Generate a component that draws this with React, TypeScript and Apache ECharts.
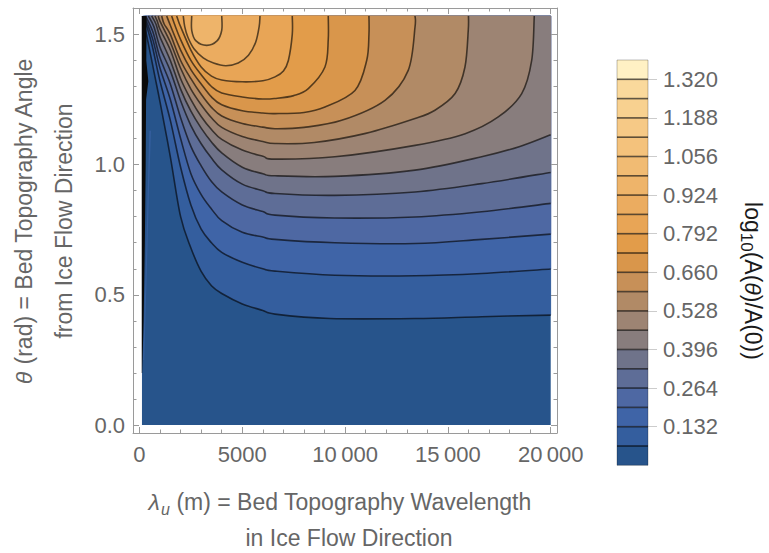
import { useEffect, useRef } from "react";
import * as echarts from "echarts";

// ---------- data ----------
const HALF_PI = 1.5708;
const domainX = [120, 20000];
const domainTheta = [0, HALF_PI];

// contour levels (log10 A(θ)/A(0)) drawn in the plot
const levels = [0.066, 0.132, 0.198, 0.264, 0.33, 0.396, 0.462, 0.528, 0.594, 0.66, 0.726, 0.792, 0.858, 0.924];

// contour lines, [λu (m), θ (rad)]
const contour1 = [[150, 1.5708], [430, 1.465], [754, 1.337], [1000, 1.24], [1500, 1.03], [2000, 0.8], [2500, 0.68], [3000, 0.59], [3500, 0.535], [4000, 0.505], [5000, 0.465], [6000, 0.44], [6590, 0.426], [9265, 0.409], [13400, 0.409], [16640, 0.416], [20000, 0.422]];
const contour2 = [[200, 1.5708], [592, 1.465], [1000, 1.32], [1500, 1.17], [2000, 0.99], [2500, 0.845], [3000, 0.752], [3500, 0.7], [4000, 0.663], [5000, 0.625], [6000, 0.6], [6590, 0.591], [9500, 0.575], [13400, 0.573], [16640, 0.582], [20000, 0.599]];
const contour3 = [[250, 1.5708], [650, 1.48], [1000, 1.37], [1500, 1.25], [2000, 1.1], [2500, 0.965], [3000, 0.885], [3500, 0.83], [4000, 0.785], [5000, 0.74], [6000, 0.722], [6590, 0.713], [9500, 0.7], [13400, 0.697], [16640, 0.713], [20000, 0.733]];
const contour4 = [[300, 1.5708], [650, 1.51], [1000, 1.41], [1500, 1.31], [2000, 1.18], [2500, 1.07], [3000, 0.995], [3500, 0.935], [4000, 0.895], [5000, 0.845], [6000, 0.82], [6590, 0.806], [9500, 0.795], [13400, 0.799], [16640, 0.819], [20000, 0.851]];
const contour5 = [[430, 1.5708], [700, 1.53], [1000, 1.45], [1500, 1.36], [2000, 1.245], [2500, 1.15], [3000, 1.08], [3500, 1.025], [4000, 0.98], [5000, 0.925], [6000, 0.9], [6590, 0.889], [9500, 0.882], [13400, 0.895], [16640, 0.927], [20000, 0.97]];
const contour6 = [[593, 1.5708], [800, 1.54], [1000, 1.49], [1500, 1.4], [2000, 1.29], [2500, 1.205], [3000, 1.14], [3500, 1.087], [4000, 1.045], [5000, 0.99], [6000, 0.965], [6590, 0.957], [9500, 0.955], [13400, 0.979], [16640, 1.03], [18500, 1.07], [20000, 1.115]];
const contour7 = [[754, 1.5708], [870, 1.55], [1000, 1.52], [1500, 1.44], [2000, 1.33], [2500, 1.25], [3000, 1.185], [3500, 1.135], [4000, 1.097], [5000, 1.056], [6000, 1.032], [6590, 1.021], [9500, 1.03], [13400, 1.074], [15840, 1.119], [17450, 1.183], [18590, 1.273], [19075, 1.4], [19200, 1.5708]];
const contour8 = [[916, 1.5708], [1000, 1.55], [1500, 1.47], [2000, 1.37], [2500, 1.29], [3000, 1.23], [3500, 1.18], [4000, 1.143], [5000, 1.108], [6000, 1.089], [6590, 1.081], [8500, 1.085], [11000, 1.12], [13400, 1.177], [14370, 1.209], [15350, 1.273], [15830, 1.375], [15990, 1.516], [16000, 1.5708]];
const contour9 = [[1080, 1.5708], [1200, 1.54], [1500, 1.5], [2000, 1.4], [2500, 1.33], [3000, 1.27], [3500, 1.22], [4000, 1.187], [5000, 1.158], [6000, 1.144], [6590, 1.138], [8000, 1.143], [9830, 1.17], [11940, 1.247], [13070, 1.362], [13400, 1.528], [13400, 1.5708]];
const contour10 = [[1323, 1.5708], [1500, 1.535], [2000, 1.44], [2500, 1.365], [3000, 1.31], [3500, 1.26], [4000, 1.23], [5000, 1.207], [6000, 1.198], [6590, 1.196], [8000, 1.2], [9020, 1.221], [10480, 1.285], [11050, 1.4], [11160, 1.5], [11160, 1.5708]];
const contour11 = [[1565, 1.5708], [1700, 1.54], [2000, 1.48], [2500, 1.4], [3000, 1.345], [3500, 1.3], [4000, 1.275], [5000, 1.26], [6000, 1.252], [6590, 1.254], [7500, 1.265], [8210, 1.292], [9020, 1.375], [9180, 1.48], [9180, 1.5708]];
const contour12 = [[1808, 1.5708], [1900, 1.55], [2000, 1.53], [2500, 1.44], [3000, 1.375], [3500, 1.34], [4000, 1.325], [5000, 1.318], [6000, 1.322], [6590, 1.337], [7000, 1.36], [7240, 1.4], [7430, 1.5], [7430, 1.5708]];
const contour13 = [[2130, 1.5708], [2200, 1.53], [2350, 1.49], [2650, 1.445], [3100, 1.41], [3600, 1.39], [4200, 1.38], [4800, 1.39], [5300, 1.42], [5650, 1.47], [5820, 1.53], [5860, 1.5708]];
const contour14 = [[2540, 1.5708], [2540, 1.516], [2750, 1.475], [3270, 1.458], [3770, 1.475], [4000, 1.516], [4000, 1.5708]];
const contours = [contour1, contour2, contour3, contour4, contour5, contour6, contour7, contour8, contour9, contour10, contour11, contour12, contour13, contour14];

// densely packed contours along the left edge (drawn as one dark strip)
const denseEdge = [[110, 1.5708], [340, 1.5708], [330, 1.4], [430, 1.32], [320, 1.25], [300, 1.0], [260, 0.7], [200, 0.4], [130, 0.2], [110, 0.2]];
// narrow lighter band just right of the strip
const edgeBand = [[180, 0.25], [300, 0.6], [400, 0.9], [480, 1.13], [560, 1.13], [460, 0.9], [360, 0.6], [230, 0.25]];

// colour of each band, from 0 up to 1.386 in steps of 0.066
const bandColors = [
  "#27548b", "#345e9e", "#3f64a7", "#4e68a3", "#5e6d97", "#6f738a", "#887d7d",
  "#9d8473", "#b18a66", "#c79058", "#d9964b", "#e29c4a", "#e8a556", "#ebac60",
  "#eeb46a", "#f1bb73", "#f4c27c", "#f6c986", "#f8d190", "#fad99c", "#fff1c4",
];
const colorbarEdges = [0, 0.066, 0.132, 0.198, 0.264, 0.33, 0.396, 0.462, 0.528, 0.594, 0.66, 0.726, 0.792, 0.858, 0.924, 0.99, 1.056, 1.122, 1.188, 1.254, 1.32, 1.386];
const colorbarTicks = [0.132, 0.264, 0.396, 0.528, 0.66, 0.792, 0.924, 1.056, 1.188, 1.32];

const xMajorTicks = [0, 5000, 10000, 15000, 20000];
const xMinorTicks = [1000, 2000, 3000, 4000, 6000, 7000, 8000, 9000, 11000, 12000, 13000, 14000, 16000, 17000, 18000, 19000];
const yMajorTicks = [0, 0.5, 1.0, 1.5];
const yMinorTicks = [0.1, 0.2, 0.3, 0.4, 0.6, 0.7, 0.8, 0.9, 1.1, 1.2, 1.3, 1.4];

// ---------- styling ----------
const FONT = '"Liberation Sans", Arial, sans-serif';
const FRAME = "#9a9a9a";
const LABEL = "#666666";
const LINE = "rgba(0,0,0,0.62)";
const X_MIN = -316;
const X_MAX = 20306;
const Y_MIN = -0.0307;
const Y_MAX = 1.6015;

function splinePath(pts: number[][]): string {
  let d = `M${pts[0][0]},${pts[0][1]}`;
  for (let i = 0; i < pts.length - 1; i++) {
    const p0 = pts[i - 1] || pts[i];
    const p1 = pts[i];
    const p2 = pts[i + 1];
    const p3 = pts[i + 2] || p2;
    const t = 1 / 6;
    const c1x = p1[0] + (p2[0] - p0[0]) * t;
    const c1y = p1[1] + (p2[1] - p0[1]) * t;
    const c2x = p2[0] - (p3[0] - p1[0]) * t;
    const c2y = p2[1] - (p3[1] - p1[1]) * t;
    d += `C${c1x},${c1y},${c2x},${c2y},${p2[0]},${p2[1]}`;
  }
  return d;
}

function polyPath(pts: number[][]): string {
  return pts.map((p, i) => `${i ? "L" : "M"}${p[0]},${p[1]}`).join("") + "Z";
}

const fmtX = (v: number) =>
  v >= 10000 ? `${Math.floor(v / 1000)}\u2009${String(v % 1000).padStart(3, "0")}` : String(v);

function xAxisDef(position: string, ticks: number[], major: boolean, labels: boolean) {
  return {
    type: "value", gridIndex: 0, min: X_MIN, max: X_MAX, position, z: 6,
    splitLine: { show: false },
    axisLine: { show: major, onZero: false, lineStyle: { color: FRAME, width: 1 } },
    axisTick: { show: true, inside: true, length: major ? 6 : 3.5, customValues: ticks, lineStyle: { color: FRAME, width: 1 } },
    axisLabel: labels
      ? { show: true, customValues: ticks, formatter: fmtX, color: LABEL, fontSize: 22, fontFamily: FONT, margin: 10 }
      : { show: false },
  };
}
function yAxisDef(position: string, ticks: number[], major: boolean, labels: boolean) {
  return {
    type: "value", gridIndex: 0, min: Y_MIN, max: Y_MAX, position, z: 6,
    splitLine: { show: false },
    axisLine: { show: major, onZero: false, lineStyle: { color: FRAME, width: 1 } },
    axisTick: { show: true, inside: true, length: major ? 6 : 3.5, customValues: ticks, lineStyle: { color: FRAME, width: 1 } },
    axisLabel: labels
      ? { show: true, customValues: ticks, formatter: (v: number) => v.toFixed(1), color: LABEL, fontSize: 22, fontFamily: FONT, margin: 8 }
      : { show: false },
  };
}

function buildOption() {
  const textBase = { fontSize: 23, fontFamily: FONT };
  return {
    animation: false,
    backgroundColor: "#ffffff",
    grid: [
      { left: 133, top: 8, width: 424, height: 425, outerBoundsMode: "none" },
      { left: 617, top: 60, width: 31, height: 405.3, outerBoundsMode: "none" },
    ],
    xAxis: [
      xAxisDef("bottom", xMajorTicks, true, true),
      xAxisDef("bottom", xMinorTicks, false, false),
      xAxisDef("top", xMajorTicks, true, false),
      xAxisDef("top", xMinorTicks, false, false),
      { type: "value", gridIndex: 1, min: 0, max: 1, show: false },
    ],
    yAxis: [
      yAxisDef("left", yMajorTicks, true, true),
      yAxisDef("left", yMinorTicks, false, false),
      yAxisDef("right", yMajorTicks, true, false),
      yAxisDef("right", yMinorTicks, false, false),
      {
        type: "value", gridIndex: 1, min: 0, max: 1.386, position: "right",
        splitLine: { show: false },
        axisLine: { show: false, onZero: false },
        axisTick: { show: true, inside: false, length: 9, customValues: colorbarTicks, lineStyle: { color: "#cccccc", width: 1 } },
        axisLabel: { show: true, customValues: colorbarTicks, formatter: (v: number) => v.toFixed(3), color: LABEL, fontSize: 22, fontFamily: FONT, margin: 15 },
      },
    ],
    series: [
      {
        type: "custom", name: "bands", xAxisIndex: 0, yAxisIndex: 0, z: 2, silent: true,
        data: bandColors.slice(0, contours.length + 1).map((_, i) => [i, 0]),
        renderItem: (params: any, api: any) => {
          const i = params.dataIndex;
          if (i === 0) {
            const corners = [
              [domainX[0], domainTheta[0]], [domainX[1], domainTheta[0]],
              [domainX[1], domainTheta[1]], [domainX[0], domainTheta[1]],
            ].map((p) => api.coord(p));
            return { type: "path", shape: { pathData: polyPath(corners) }, style: { fill: bandColors[0] } };
          }
          const c = contours[i - 1];
          const pts = c.map((p) => api.coord(p));
          let d = splinePath(pts);
          const last = c[c.length - 1];
          if (last[1] < HALF_PI - 1e-6) {
            const tr = api.coord([domainX[1], domainTheta[1]]);
            d += `L${tr[0]},${tr[1]}`;
          }
          d += "Z";
          return { type: "path", shape: { pathData: d }, style: { fill: bandColors[i], stroke: bandColors[i], lineWidth: 0.5 } };
        },
      },
      {
        type: "custom", name: "edgeBand", xAxisIndex: 0, yAxisIndex: 0, z: 3, silent: true,
        data: [[0, 0]],
        renderItem: (_p: any, api: any) => ({
          type: "path", shape: { pathData: polyPath(edgeBand.map((p) => api.coord(p))) }, style: { fill: bandColors[1] },
        }),
      },
      {
        type: "custom", name: "contours", xAxisIndex: 0, yAxisIndex: 0, z: 4, silent: true,
        data: contours.map((_, i) => [i, 0]),
        renderItem: (params: any, api: any) => {
          const c = contours[params.dataIndex];
          return {
            type: "path",
            shape: { pathData: splinePath(c.map((p) => api.coord(p))) },
            style: { fill: "none", stroke: LINE, lineWidth: 1.6 },
          };
        },
      },
      {
        type: "custom", name: "denseEdge", xAxisIndex: 0, yAxisIndex: 0, z: 5, silent: true,
        data: [[0, 0]],
        renderItem: (_p: any, api: any) => ({
          type: "path", shape: { pathData: polyPath(denseEdge.map((p) => api.coord(p))) }, style: { fill: "#0a0a0a" },
        }),
      },
      {
        type: "custom", name: "colorbar", xAxisIndex: 4, yAxisIndex: 4, z: 2, silent: true,
        data: bandColors.map((_, i) => [0, colorbarEdges[i]]),
        renderItem: (params: any, api: any) => {
          const i = params.dataIndex;
          const lo = api.coord([0, colorbarEdges[i]]);
          const hi = api.coord([1, colorbarEdges[i + 1]]);
          const children: any[] = [
            { type: "rect", shape: { x: lo[0], y: hi[1], width: hi[0] - lo[0], height: lo[1] - hi[1] }, style: { fill: bandColors[i] } },
          ];
          if (i > 0) {
            children.push({ type: "line", shape: { x1: lo[0], y1: lo[1], x2: hi[0], y2: lo[1] }, style: { stroke: LINE, lineWidth: 1.6 } });
          }
          if (i === bandColors.length - 1) {
            const b = api.coord([0, colorbarEdges[0]]);
            children.push({ type: "rect", shape: { x: b[0], y: hi[1], width: hi[0] - b[0], height: b[1] - hi[1] }, style: { fill: "none", stroke: "rgba(0,0,0,0.25)", lineWidth: 1 } });
          }
          return { type: "group", children };
        },
      },
    ],
    graphic: [
      {
        type: "text", x: 24, y: 221, rotation: Math.PI / 2,
        style: {
          text: "{i|θ} (rad) = Bed Topography Angle", ...textBase, fill: LABEL,
          align: "center", verticalAlign: "middle",
          rich: { i: { ...textBase, fontStyle: "italic", fill: LABEL } },
        },
      },
      {
        type: "text", x: 63.5, y: 221, rotation: Math.PI / 2,
        style: { text: "from Ice Flow Direction", ...textBase, fill: LABEL, align: "center", verticalAlign: "middle" },
      },
      {
        type: "text", x: 340, y: 502,
        style: {
          text: "{i|λ}{s|u} (m) = Bed Topography Wavelength", ...textBase, fill: LABEL,
          align: "center", verticalAlign: "middle",
          rich: {
            i: { ...textBase, fontStyle: "italic", fill: LABEL },
            s: { fontSize: 16, fontFamily: FONT, fontStyle: "italic", fill: LABEL, padding: [14, 0, 0, 1] },
          },
        },
      },
      {
        type: "text", x: 349, y: 538,
        style: { text: "in Ice Flow Direction", ...textBase, fill: LABEL, align: "center", verticalAlign: "middle" },
      },
      {
        type: "text", x: 753, y: 281, rotation: -Math.PI / 2,
        style: {
          text: "log{s|10}(A({i|θ})/A(0))", ...textBase, fill: "#1a1a1a",
          align: "center", verticalAlign: "middle",
          rich: {
            i: { ...textBase, fontStyle: "italic", fill: "#1a1a1a" },
            s: { fontSize: 17, fontFamily: FONT, fill: "#1a1a1a", padding: [14, 0, 0, 0] },
          },
        },
      },
    ],
  };
}

export default function App() {
  const ref = useRef<HTMLDivElement>(null);
  useEffect(() => {
    if (!ref.current) return;
    const chart = echarts.init(ref.current, null, { renderer: "svg" });
    chart.setOption(buildOption() as any);
    return () => chart.dispose();
  }, []);
  return (
    <div
      ref={ref}
      style={{ position: "fixed", left: 0, top: 0, width: 769, height: 553, background: "#ffffff" }}
    />
  );
}
